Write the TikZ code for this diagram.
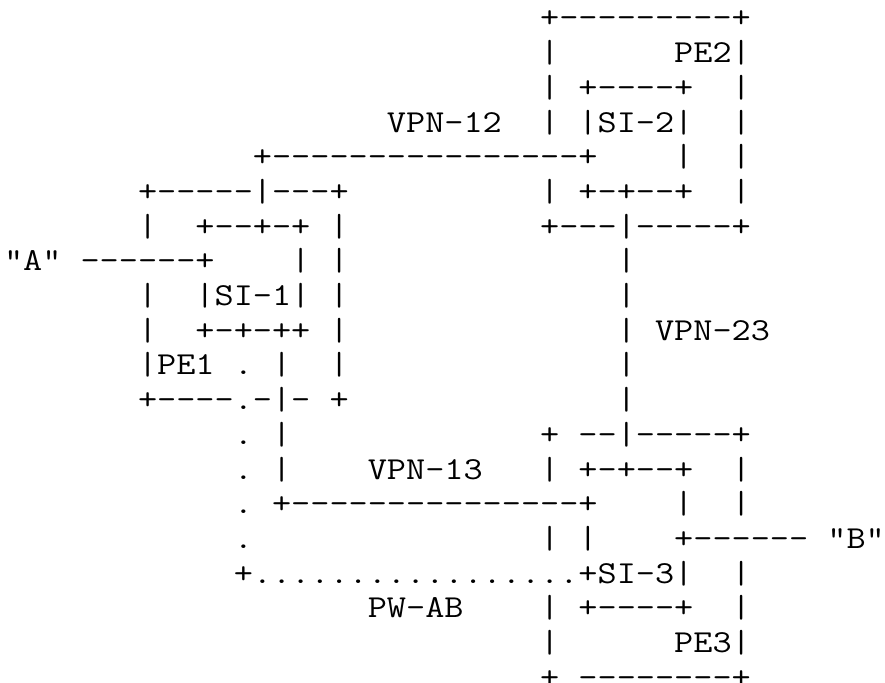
\documentclass[tikz,border=0pt]{standalone}
\usepackage{fontspec}
\usepackage{graphicx}
\setmonofont{Latin Modern Mono}
\newdimen\asciispw
\newcommand\gap[1]{\hskip #1\fontdimen2\font\relax}
\newcommand\asciiline[1]{%
  \asciispw=\fontdimen2\font
  \pgfmathsetmacro\asciixs{14.3625pt/\asciispw}%
  \scalebox{\asciixs}[1]{#1}}
\tikzset{
  asciirow/.style={anchor=base west, inner sep=0pt, outer sep=0pt,
    font=\ttfamily\fontsize{24}{26}\selectfont, text=black}
}
\begin{document}
\begin{tikzpicture}[x=0.75pt, y=-0.75pt]
\useasboundingbox[fill=white] (0,0) rectangle (885,682);
\node[asciirow] (r0)  at (4, 27.9) {\asciiline{\gap{28}+---------+}};
\node[asciirow] (r1)  at (4, 62.6) {\asciiline{\gap{28}|\gap{6}PE2|}};
\node[asciirow] (r2)  at (4, 97.3) {\asciiline{\gap{28}|\gap{1}+----+\gap{2}|}};
\node[asciirow] (r3)  at (4, 132.0) {\asciiline{\gap{20}VPN-12\gap{2}|\gap{1}|SI-2|\gap{2}|}};
\node[asciirow] (r4)  at (4, 166.7) {\asciiline{\gap{13}+----------------+\gap{4}|\gap{2}|}};
\node[asciirow] (r5)  at (4, 201.4) {\asciiline{\gap{7}+-----|---+\gap{10}|\gap{1}+-+--+\gap{2}|}};
\node[asciirow] (r6)  at (4, 236.1) {\asciiline{\gap{7}|\gap{2}+--+-+\gap{1}|\gap{10}+---|-----+}};
\node[asciirow] (r7)  at (4, 270.8) {\asciiline{"A"\gap{1}------+\gap{4}|\gap{1}|\gap{14}|}};
\node[asciirow] (r8)  at (4, 305.5) {\asciiline{\gap{7}|\gap{2}|SI-1|\gap{1}|\gap{14}|}};
\node[asciirow] (r9)  at (4, 340.2) {\asciiline{\gap{7}|\gap{2}+-+-++\gap{1}|\gap{14}|\gap{1}VPN-23}};
\node[asciirow] (r10) at (4, 374.9) {\asciiline{\gap{7}|PE1\gap{1}.\gap{1}|\gap{2}|\gap{14}|}};
\node[asciirow] (r11) at (4, 409.6) {\asciiline{\gap{7}+----.-|-\gap{1}+\gap{14}|}};
\node[asciirow] (r12) at (4, 444.3) {\asciiline{\gap{12}.\gap{1}|\gap{13}+\gap{1}--|-----+}};
\node[asciirow] (r13) at (4, 479.0) {\asciiline{\gap{12}.\gap{1}|\gap{4}VPN-13\gap{3}|\gap{1}+-+--+\gap{2}|}};
\node[asciirow] (r14) at (4, 513.7) {\asciiline{\gap{12}.\gap{1}+---------------+\gap{4}|\gap{2}|}};
\node[asciirow] (r15) at (4, 548.4) {\asciiline{\gap{12}.\gap{15}|\gap{1}|\gap{4}+------\gap{1}"B"}};
\node[asciirow] (r16) at (4, 583.1) {\asciiline{\gap{12}+.................+SI-3|\gap{2}|}};
\node[asciirow] (r17) at (4, 617.8) {\asciiline{\gap{19}PW-AB\gap{4}|\gap{1}+----+\gap{2}|}};
\node[asciirow] (r18) at (4, 652.5) {\asciiline{\gap{28}|\gap{6}PE3|}};
\node[asciirow] (r19) at (4, 687.2) {\asciiline{\gap{28}+\gap{1}--------+}};
\end{tikzpicture}
\end{document}
